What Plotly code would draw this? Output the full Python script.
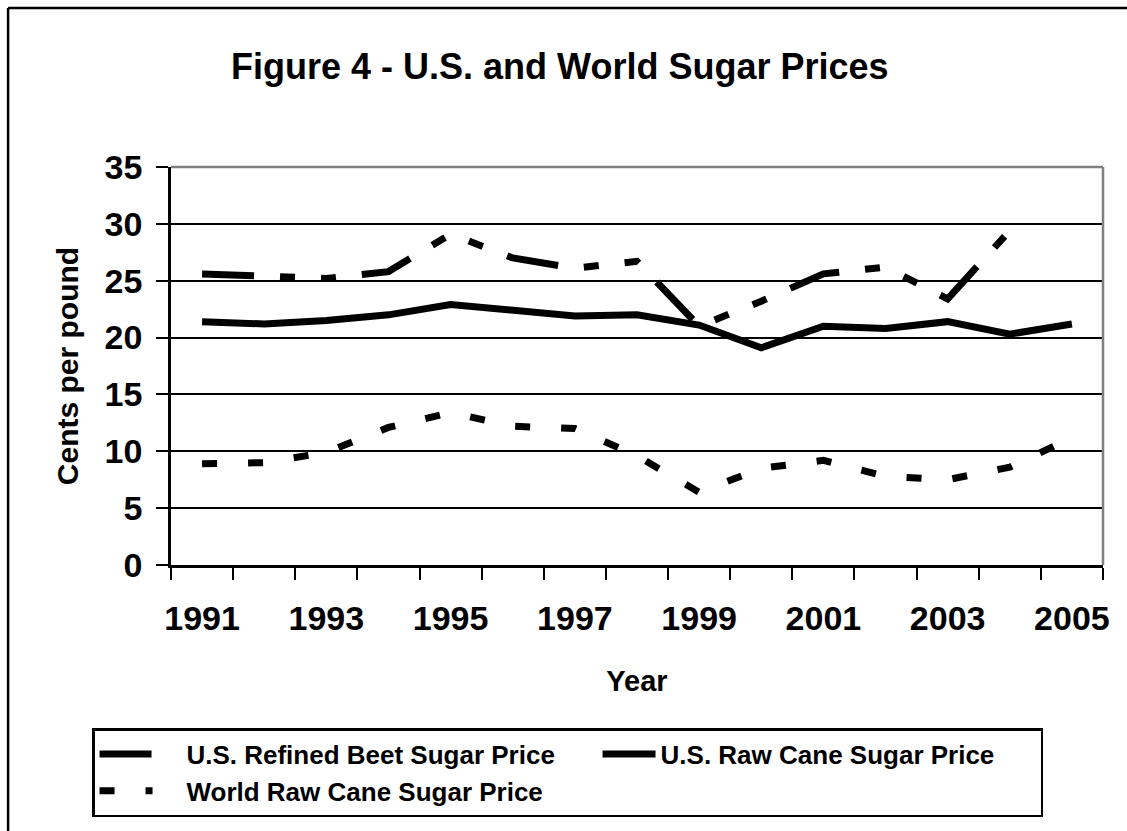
import plotly.graph_objects as go

years = list(range(1991, 2006))
beet_price = [25.6, 25.4, 25.2, 25.8, 29.1, 27.0, 26.1, 26.7, 21.0, 23.2, 25.6, 26.2, 23.4, 29.4, None]
raw_cane_price = [21.4, 21.2, 21.5, 22.0, 22.9, 22.4, 21.9, 22.0, 21.1, 19.1, 21.0, 20.8, 21.4, 20.3, 21.2]
world_price = [8.9, 9.0, 9.9, 12.1, 13.4, 12.2, 12.0, 9.6, 6.4, 8.5, 9.2, 7.8, 7.5, 8.6, 11.2]
label_years = [1991, 1993, 1995, 1997, 1999, 2001, 2003, 2005]
y_ticks = [0, 5, 10, 15, 20, 25, 30, 35]

FONT = "Liberation Sans, Arial, sans-serif"
PAD = "\u00a0\u00a0\u00a0\u00a0"

fig = go.Figure()
fig.add_trace(go.Scatter(x=years, y=beet_price, mode="lines", name=PAD + "U.S. Refined Beet Sugar Price",
                         legendwidth=435,
                         line=dict(color="black", width=7, dash="52px,26px,15px,26px,15px,26px")))
fig.add_trace(go.Scatter(x=years, y=raw_cane_price, mode="lines", name="U.S. Raw Cane Sugar Price",
                         legendwidth=375,
                         line=dict(color="black", width=7)))
fig.add_trace(go.Scatter(x=years, y=world_price, mode="lines", name=PAD + "World Raw Cane Sugar Price",
                         line=dict(color="black", width=7, dash="15px,31px")))

L, R, T, B = 171, 1103.5, 167, 565
W, H = 1127, 831
pw, ph = R - L, B - T

def px(x):
    return (x - L) / pw

def py(y):
    return (B - y) / ph

fig.update_layout(
    width=W, height=H,
    margin=dict(l=L, r=W - R, t=T, b=H - B),
    paper_bgcolor="white", plot_bgcolor="white",
    font=dict(family=FONT, color="black", weight="bold"),
    title=dict(text="Figure 4 - U.S. and World Sugar Prices",
               font=dict(size=36, family=FONT, color="black", weight="bold"),
               xref="paper", x=px(560), xanchor="center",
               yref="container", y=1 - 66 / H, yanchor="middle"),
    xaxis=dict(range=[1990.5, 2005.5], tickvals=label_years, ticktext=[str(v) for v in label_years],
               ticks="outside", ticklen=0, showgrid=False, zeroline=False,
               showline=True, linecolor="black", linewidth=2.5,
               tickfont=dict(size=34, family=FONT, weight="bold"), ticklabelstandoff=21,
               minor=dict(tick0=1990.5, dtick=1, ticks="outside", ticklen=12, tickwidth=2,
                          tickcolor="black", showgrid=False),
               title=dict(text="Year", font=dict(size=29, family=FONT, weight="bold"), standoff=36)),
    yaxis=dict(range=[0, 35], tickvals=y_ticks, ticks="outside", ticklen=12, tickwidth=2,
               tickcolor="black", showgrid=True, gridcolor="black", gridwidth=2,
               zeroline=False, showline=True, linecolor="black", linewidth=2.5,
               tickfont=dict(size=34, family=FONT, weight="bold"), ticklabelstandoff=7,
               title=dict(text="Cents per pound", font=dict(size=30, family=FONT, weight="bold"), standoff=18)),
    legend=dict(orientation="h", x=px(92), xanchor="left", y=py(728), yanchor="top",
                bgcolor="white", bordercolor="black", borderwidth=2.5,
                font=dict(size=26, family=FONT, color="black", weight="bold"),
                itemwidth=53, entrywidthmode="pixels"),
    showlegend=True,
)

# plot-area gray top and right borders
fig.add_shape(type="line", xref="paper", yref="paper", x0=0, x1=1, y0=1, y1=1,
              line=dict(color="#808080", width=2.5))
fig.add_shape(type="line", xref="paper", yref="paper", x0=1, x1=1, y0=0, y1=1,
              line=dict(color="#808080", width=2.5))
# outer chart frame (left and top visible)
fig.add_shape(type="line", xref="paper", yref="paper", x0=px(8), x1=px(1140), y0=py(8), y1=py(8),
              line=dict(color="black", width=2.5))
fig.add_shape(type="line", xref="paper", yref="paper", x0=px(8), x1=px(8), y0=py(8), y1=py(850),
              line=dict(color="black", width=2.5))

fig.write_html("out.html")
